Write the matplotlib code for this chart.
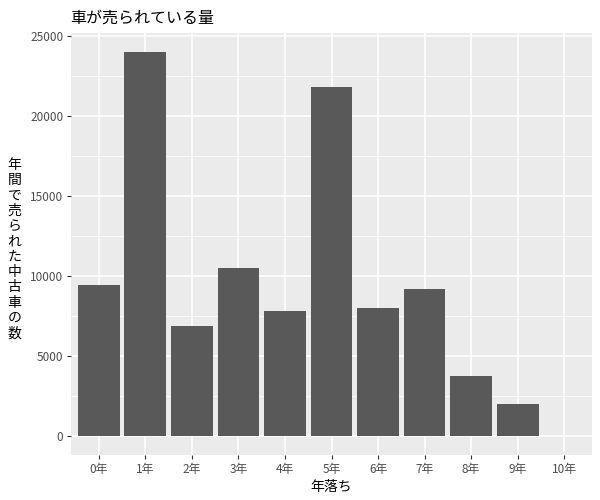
import matplotlib
matplotlib.use("Agg")
import matplotlib.pyplot as plt
from matplotlib.ticker import MultipleLocator

plt.rcParams['font.family'] = ['Noto Sans CJK JP', 'DejaVu Sans']

categories = ["0年", "1年", "2年", "3年", "4年", "5年", "6年", "7年", "8年", "9年", "10年"]
counts = [9450, 24000, 6900, 10520, 7820, 21850, 8010, 9200, 3760, 2000, 0]
yticks = [0, 5000, 10000, 15000, 20000, 25000]
title = "車が売られている量"
xlabel = "年落ち"
ylabel = "年間で売られた中古車の数"

fig = plt.figure(figsize=(6, 5), dpi=100)
ax = fig.add_axes([0.1183, 0.09, 0.8684, 0.844])
ax.set_facecolor("#EBEBEB")

x = list(range(len(categories)))
ax.bar(x, counts, width=0.9, color="#595959", zorder=3)

ymax = max(counts)
ax.set_ylim(-0.05 * ymax, 1.05 * ymax)
ax.set_xlim(-0.6, len(categories) - 1 + 0.6)

ax.set_xticks(x)
ax.set_xticklabels(categories)
ax.set_yticks(yticks)
ax.set_yticklabels([str(v) for v in yticks])
ax.yaxis.set_minor_locator(MultipleLocator(2500))

ax.grid(which="major", color="white", linewidth=1.1, zorder=0)
ax.grid(which="minor", axis="y", color="white", linewidth=0.55, zorder=0)
ax.set_axisbelow(True)

for s in ax.spines.values():
    s.set_visible(False)

ax.tick_params(axis="both", which="major", length=3, width=0.8, color="#333333",
               labelcolor="#4D4D4D", labelsize=8.5, pad=2.5)
ax.tick_params(axis="y", which="minor", length=0)

ax.set_xlabel(xlabel, fontsize=10, color="black", labelpad=3)
fig.text(0.117, 0.963, title, fontsize=11.5, color="black", ha="left", va="center")
fig.text(0.024, 0.502, "\n".join(list(ylabel)), fontsize=10, color="black",
         ha="center", va="center", linespacing=1.12)

fig.savefig("out.png", dpi=100)
